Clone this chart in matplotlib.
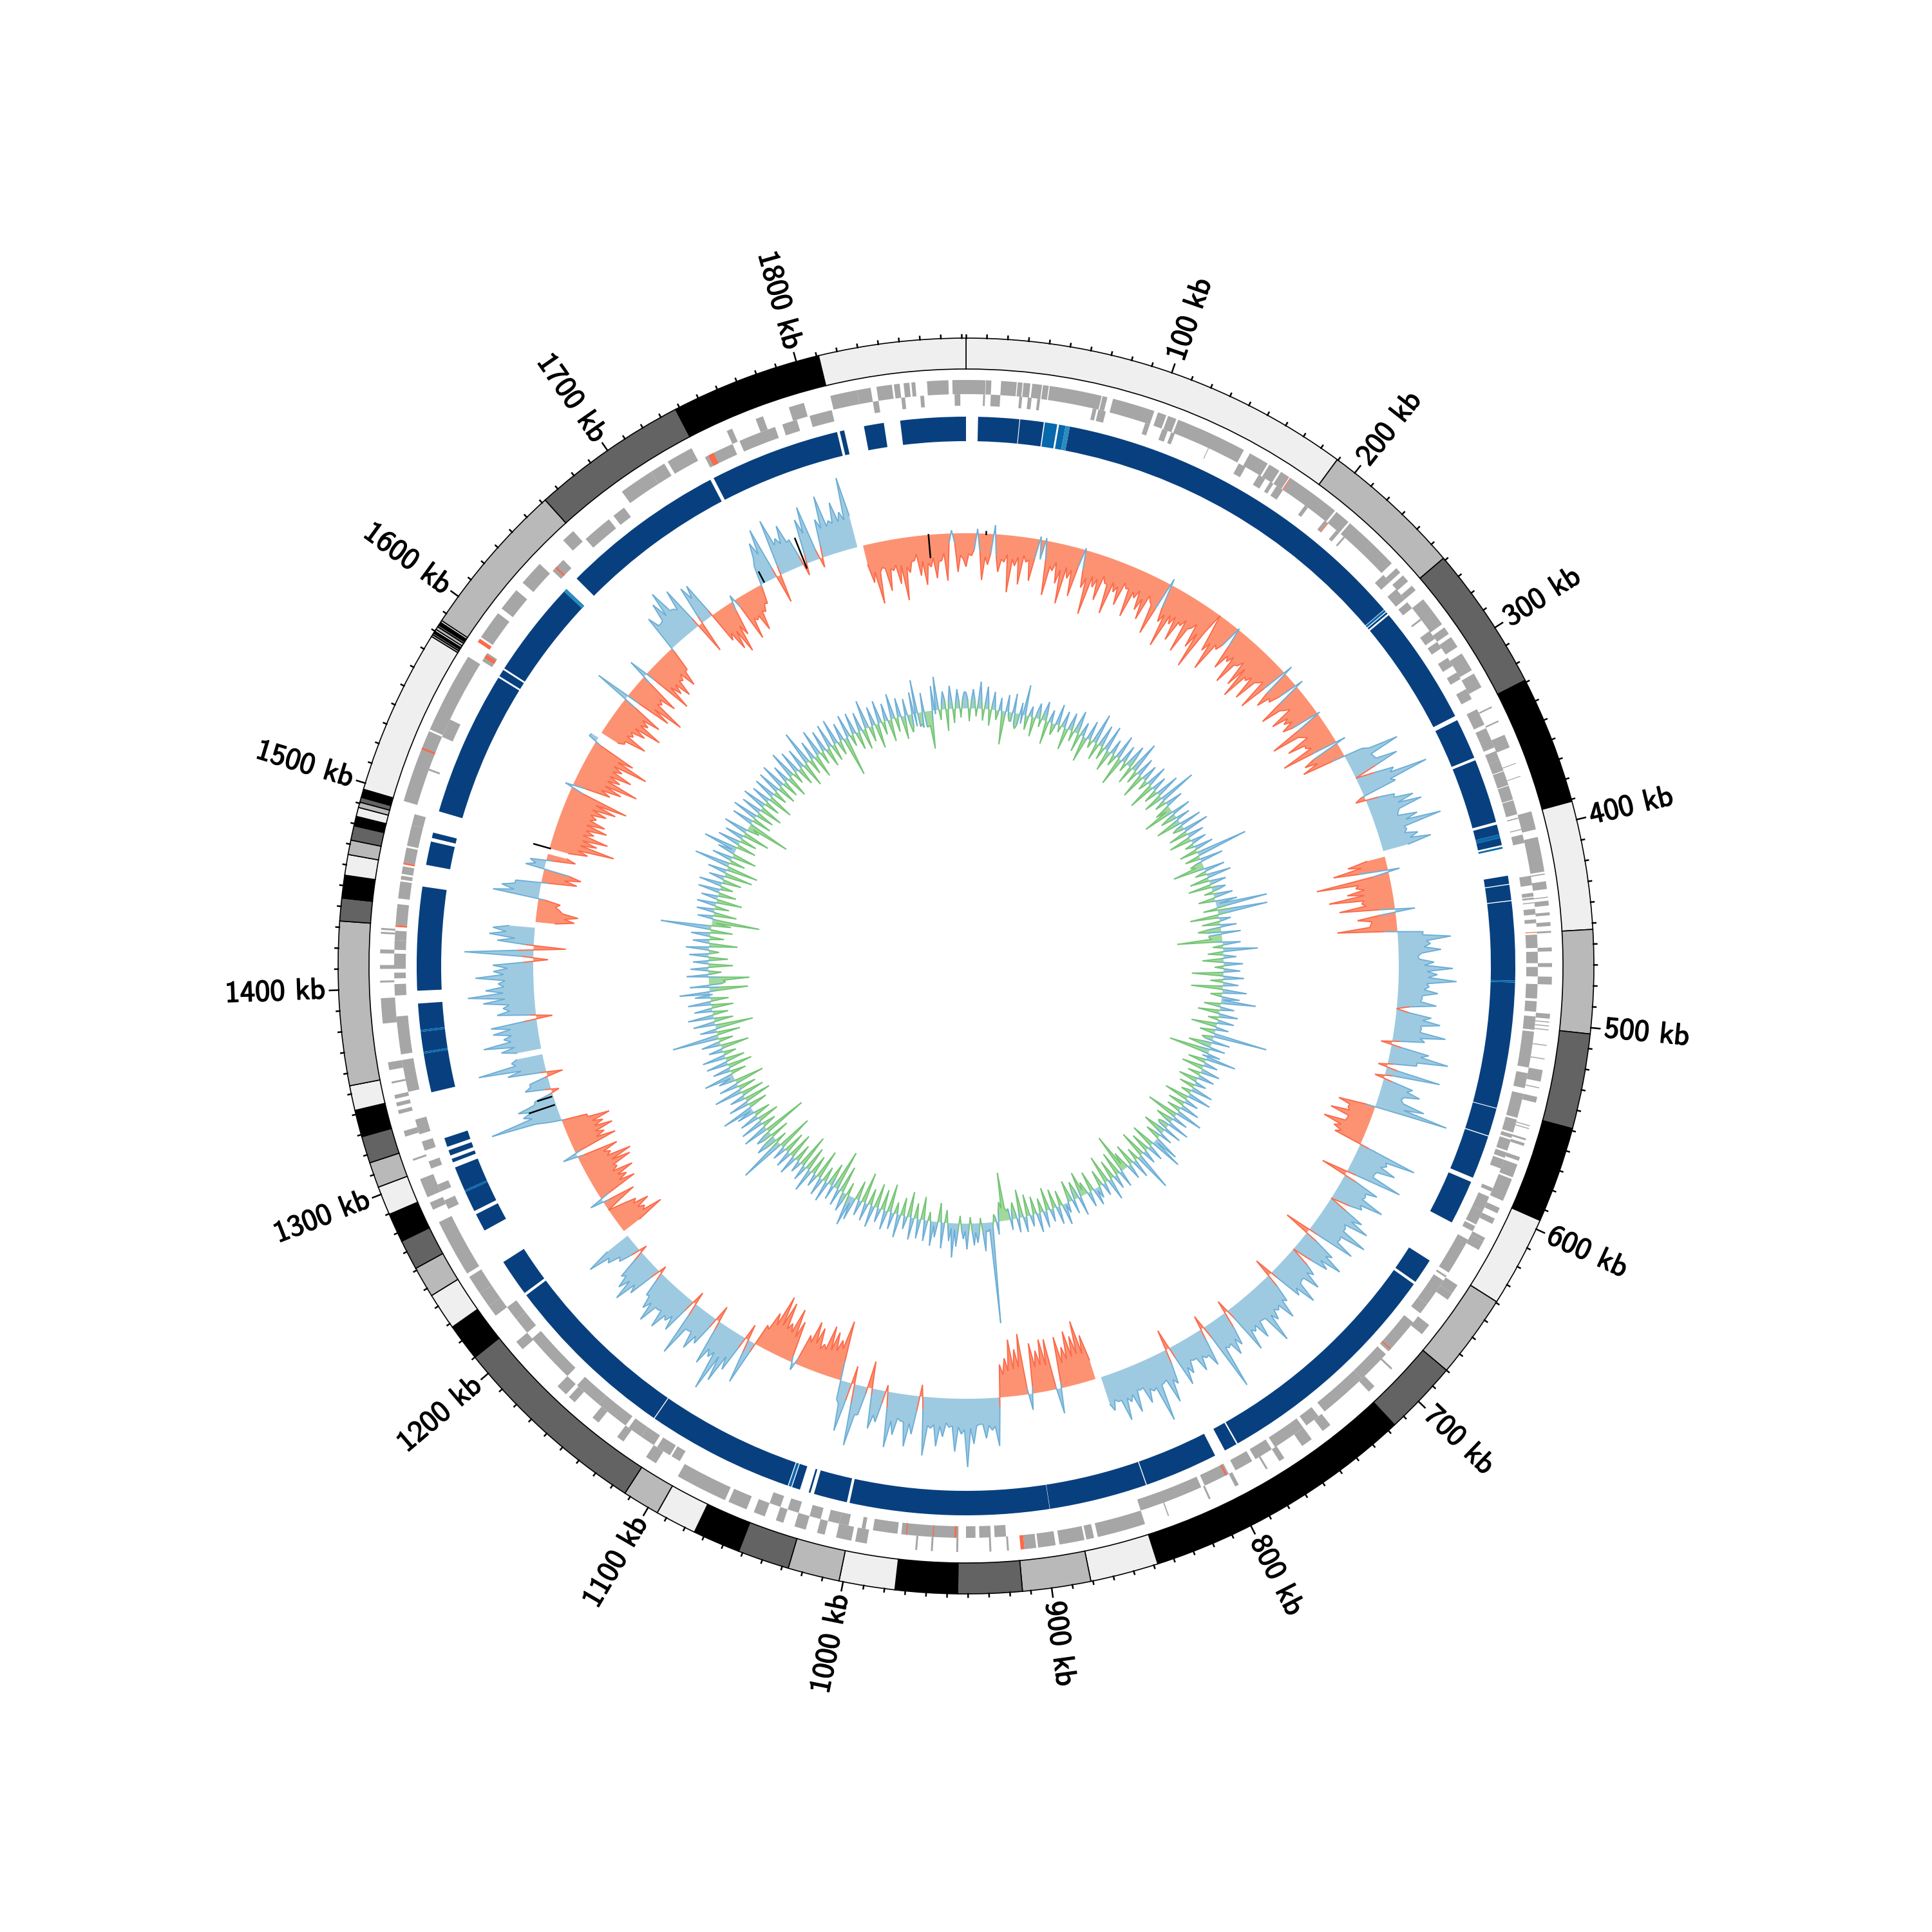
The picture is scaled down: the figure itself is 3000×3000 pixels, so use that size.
# -*- coding: utf-8 -*-
"""
Circular genome plot: contigs, genes on both strands, contig coverage
and two signed tracks around a 1882 kb genome.
"""
import numpy as np
import matplotlib
matplotlib.use("Agg")
import matplotlib.pyplot as plt
import matplotlib.patheffects as path_effects

GENOME_KB = 1882

# contig boundaries in kb, shades cycle light, gray, dark, black
contig_edges = [0, 189.5, 258.8, 329, 391, 453, 503, 549, 595.5, 639.5, 680, 716,
                848, 881, 914, 945, 975, 1002, 1027, 1052, 1075, 1095, 1113, 1210,
                1228, 1246, 1261, 1275.6, 1289.7, 1303.7, 1316, 1329, 1342, 1354,
                1433, 1444, 1455, 1465, 1472, 1479, 1483.6, 1488, 1490.6, 1493,
                1497, 1577, 1578, 1579, 1580, 1581, 1582.5, 1583.5, 1585, 1586,
                1662, 1738, 1811, 1882]
contig_shades = ["#efefef", "#b9b9b9", "#636363", "#000000"]

tick_labels = ["100 kb", "200 kb", "300 kb", "400 kb", "500 kb", "600 kb",
               "700 kb", "800 kb", "900 kb", "1000 kb", "1100 kb", "1200 kb",
               "1300 kb", "1400 kb", "1500 kb", "1600 kb", "1700 kb", "1800 kb"]

# genes on the outer lane (start kb, end kb)
genes_outer = [(0, 10), (10.2, 13), (18, 26), (26.5, 29), (29.5, 33), (34, 39), (39.5, 42.5),
               (43, 70), (70.5, 73), (76, 98), (100, 104.5), (105.5, 110), (111, 148),
               (151.5, 162), (163, 169), (170, 175), (176, 204), (205, 213), (214, 243.6),
               (247, 250), (252, 256), (259, 262), (268, 284), (286, 290), (292, 298),
               (302, 312), (314, 322), (333, 333.8), (341, 341.8), (349, 356),
               (364.5, 364.9), (371.5, 371.9), (390.5, 400), (404, 422), (423, 423.6),
               (427, 431), (435, 435.5), (437, 439.5), (443, 444.5), (448, 450),
               (452.5, 453.5), (461, 463), (469, 471), (476, 480), (495, 497.5),
               (499, 499.5), (501, 501.5), (503, 503.5), (511, 511.5), (518, 518.5),
               (524, 530), (533, 533.5), (538, 541), (553, 553.5), (554.5, 555),
               (560, 561), (562.5, 564), (570, 572), (574, 581), (582, 594), (598, 601),
               (604, 607), (615, 617), (617, 622), (643, 648), (648, 652),
               (668, 674), (697, 698), (710, 714),
               (740, 745), (752, 758), (769, 772), (779, 780), (796, 798), (812, 813),
               (835, 835.6), (848, 873), (875, 879), (880, 893), (895, 904), (905, 911),
               (919, 920), (928, 929), (945, 946), (958, 959), (966, 967), (992, 998),
               (1000, 1008), (1014, 1018), (1024, 1030), (1036, 1040), (1046, 1052),
               (1056, 1066), (1068, 1095), (1108, 1114), (1128, 1132), (1144, 1148),
               (1160, 1164), (1166, 1172), (1198, 1203), (1220, 1226), (1226, 1234),
               (1234, 1244), (1246, 1276), (1283, 1287), (1290, 1300), (1310, 1311),
               (1323, 1326), (1335, 1337), (1339, 1341), (1343, 1345), (1351, 1352),
               (1358, 1362), (1382, 1395), (1403, 1404), (1410, 1412), (1418, 1420),
               (1428, 1429), (1430, 1431), (1497, 1535), (1536, 1578), (1590, 1605),
               (1608, 1620), (1625, 1638), (1655, 1662), (1694, 1712), (1712, 1720),
               (1722, 1736), (1756, 1759), (1772, 1776), (1790, 1798), (1812, 1826),
               (1826, 1833), (1836, 1844), (1845, 1848), (1850, 1853), (1854, 1856),
               (1862, 1873), (1875, 1882)]

# genes on the inner lane
genes_inner = [(9, 10), (13, 18), (28, 29.5), (32.5, 34.5), (37.5, 39), (67, 69), (70, 74),
               (95.5, 98), (105, 108), (110, 112), (131, 131.4), (149, 153), (161, 165),
               (168, 170), (172, 176), (190, 192), (203, 205), (211, 213), (216, 217),
               (245, 250), (255, 262), (264, 268), (275, 276), (283, 288), (290, 294),
               (300, 305), (309, 313), (319, 325), (331, 340), (342, 353), (355, 360),
               (360, 366), (366.4, 374), (374.4, 382), (382.4, 390), (391.8, 392.4),
               (398, 398.5), (401, 405.5), (423, 428), (432, 434), (434.5, 435.5),
               (437, 437.5), (440.5, 443.5), (446, 448), (454, 461), (463, 469),
               (471, 476), (480, 487.6), (489, 494.5), (497, 504), (505, 524),
               (527, 535), (538, 551), (552, 559), (560, 562), (563, 569), (570, 573),
               (574, 579), (590, 592), (595, 603), (603, 611), (612, 615), (620, 640),
               (642, 643), (645, 660), (660, 666), (672, 692),
               (694, 712), (712, 738), (742, 750), (752, 770), (772, 782), (784, 794),
               (798, 812), (814, 848), (920, 926), (928, 934), (936, 941), (945, 975),
               (977, 990), (994, 996), (1003, 1008), (1008, 1014), (1018, 1024),
               (1030, 1036), (1040, 1046), (1098, 1103), (1104, 1112), (1114, 1122),
               (1122, 1130), (1132, 1150), (1150, 1165), (1172, 1199), (1203, 1212),
               (1212, 1220), (1280, 1285), (1290, 1294), (1303, 1307), (1313, 1318),
               (1322, 1330), (1345, 1362), (1365, 1385), (1396, 1402), (1405, 1408),
               (1410, 1418), (1420, 1425), (1425, 1430), (1433, 1444), (1447, 1456),
               (1457, 1459), (1460, 1464), (1466, 1474), (1475, 1486), (1486, 1492),
               (1516, 1517), (1535, 1545), (1580, 1585), (1640, 1648), (1664, 1680),
               (1683, 1690), (1740, 1756), (1760, 1780), (1784, 1792), (1799, 1811),
               (1833, 1836), (1848, 1850), (1858, 1860), (1876, 1879)]

# a few genes picked out in red (start kb, end kb, lane)
genes_red = [(175.5, 176, "outer"), (205, 205.5, "inner"), (452.6, 453, "inner"),
             (690, 690.6, "inner"), (799, 800, "inner"), (911, 913, "outer"),
             (946, 947, "inner"), (958, 958.5, "inner"), (972, 972.6, "inner"),
             (1432, 1433, "inner"), (1465, 1466, "inner"), (1525, 1526, "outer"),
             (1582, 1584, "inner"), (1587, 1589, "outer"), (1642, 1643, "inner"),
             (1742, 1745, "inner")]

# blue contig coverage ring (start kb, end kb)
coverage_dark = [(6.6, 29.2), (29.6, 42.6), (57, 259), (261, 262), (263, 329), (331.5, 354),
                 (355.5, 391), (392.5, 398), (400, 404), (421, 425.5), (426, 434.5),
                 (435, 478.5), (479.5, 548.8), (549.2, 564.5), (565, 589), (591.5, 616),
                 (640, 654), (655.5, 786), (786.8, 794), (800, 840.5), (841, 895),
                 (895.2, 1005), (1006.5, 1025), (1027, 1028), (1033, 1037.5), (1040, 1121.5),
                 (1122, 1219), (1220.5, 1241), (1261, 1271), (1273, 1284.5), (1285.5, 1299),
                 (1302, 1304), (1306, 1309), (1311, 1316), (1342, 1363.5), (1364.5, 1375.5),
                 (1376.5, 1391), (1398, 1455), (1467, 1480), (1482, 1485), (1497, 1577),
                 (1578, 1582), (1583, 1638), (1646, 1737), (1739, 1811), (1812.5, 1815),
                 (1826, 1837), (1846, 1882)]
coverage_mid = [(43.2, 50), (51, 54.6), (259.3, 260.5), (398, 400), (405, 406), (478.5, 479.5),
                (1038, 1039.5), (1284.5, 1285.5), (1363.5, 1364.5), (1375.5, 1376.5)]
coverage_light = [(54.6, 57), (1636, 1638)]

# middle track, one value every 4 kb, px away from its baseline
mid_peaks = [
    -52, -35, 7, -72, -48, 14, -58, -42, -88, -46,
    -74, -38, -66, 5, 4, -84, -44, -62, -92, -50,
    -76, 3, -58, -98, -52, -70, -40, -86, -48, -66,
    -36, -78, -44, -60, -72, -38, -88, 10, -60, -97,
    -55, -78, -48, -88, -42, -70, -100, 0, -60, -88,
    -46, 2, -68, -50, -82, -44, -74, -90, -52, -80,
    -40, -83, 14, -65, -48, 12, -75, -38, -68, -52,
    -60, 4, -89, -40, -72, -46, -90, 15, -62, -69,
    30, 86, 40, 75, 0, 60, 111, 55, -16, 45,
    72, 82, 40, 68, 103, 45, 60, 78, np.nan, -60,
    -85, 18, -115, -55, -70, -100, -50, -86, 31, -60,
    -40, -93, 40, 82, 50, 66, 30, 55, 84, 60,
    90, 48, 62, 38, 61, 0, 55, 70, 42, 81,
    50, -17, 60, 92, 45, -14, 86, -15, 48, 62,
    35, 75, 115, -58, -40, -65, -35, -70, -50, -45,
    94, 52, 70, 40, 89, -41, 60, 45, 80, 50,
    0, 62, 78, 45, 87, 48, 77, -41, 55, 78,
    60, 0, 50, 68, 42, 77, 55, -29, 48, 72,
    50, 60, 92, 45, 70, 52, 78, -20, 55, 66,
    48, 111, -22, 60, 42, 58, 35, 52, 66, -32,
    55, 81, 45, 103, 50, 65, 40, 72, 52, 78,
    45, 56, np.nan, -72, -97, -75, -85, -62, -80, 39,
    -80, -81, -65, -78, 25, -95, -72, -88, -60, -51,
    75, 50, 62, 40, 70, 106, 55, 82, 45, 60,
    75, 48, 91, -18, 60, 80, 42, 65, 86, -10,
    50, 62, -42, 45, 96, -28, 78, 30, -93, -60,
    -70, -77, -45, -68, -75, -50, 12, -65, -82, -55,
    -85, -92, -60, -35, 70, -25, 60, 85, 105, 55,
    72, -25, 50, 65, 40, 88, -20, 60, 50, 70,
    45, 74, 58, 40, -12, 55, 76, 62, 48, -12,
    35, 50, 78, np.nan, -75, -50, -62, -45, 0, -52,
    21, -64, -55, -70, -48, -75, -80, -50, -65, 23,
    -70, -55, -72, -60, -74, -40, 20, 110, 55, 60,
    30, -12, 40, 30, -25, 60, 104, 50, np.nan, 62,
    88, 55, 70, 72, -25, 60, 50, 80, 103, 75,
    55, 90, 62, 63, -23, 107, -50, 57, 70, 65,
    np.nan, -60, -65, -35, -35, 72, 60, 40, -55, -60,
    30, 25, -45, np.nan, -60, -100, -70, -85, -60, -78,
    -72, -55, -68, -80, -95, 12, -60, -75, -98, -65,
    -80, -60, -98, -70, 14, np.nan, -40, -72, -45, -60,
    -83, -55, -70, 55, -75, -94, -50, -68, 30, -80,
    -60, -70, -48, -64, -40, 58, 40, 70, 83, 45,
    72, -50, 62, 60, -50, -70, -80, -55, 10, -72,
    -45, -66, -40, -30, 30, 65, 83, -44, 89, 55,
    72, 45, -18, 70, 87, -15, 60, 94, 52, 78,
    60, 112, np.nan, -60, -95, -40, -78, -48, -70, -97,
    -55, -38, -62, -77, -50, -68, -42, -73, 5, -60,
    -40,
]

# middle track, the level read between two of the values above
mid_between = [
    -32, -25, -28, -36, -30, -34, -38, -30, -36, -32,
    -28, -34, -30, -30, -30, -38, -30, -40, -34, -36,
    -30, -32, -42, -36, -38, -30, -40, -34, -38, -28,
    -34, -36, -30, -40, -30, -42, -44, -38, -46, -42,
    -40, -44, -36, -46, -32, -44, -35, -30, -44, -40,
    -34, -30, -42, -38, -46, -34, -40, -48, -42, -44,
    -34, -40, -42, -44, -30, -38, -44, -30, -42, -40,
    -44, -40, -46, -34, -44, -38, -40, -44, -42, -20,
    40, 38, 42, 36, 30, 52, 48, -5, 20, 42,
    46, 44, 38, 48, 42, 40, 46, 40, -28, -40,
    -45, -25, -50, -42, -44, -46, -44, -25, -25, -38,
    -42, -20, 38, 44, 40, 36, 32, 40, 44, 46,
    44, 40, 38, 36, 20, 20, 42, 40, 40, 42,
    12, 16, 48, 44, 10, 18, 12, 14, 40, 38,
    40, 44, -15, -38, -36, -34, -36, -40, -36, 15,
    48, 44, 42, 40, 15, 20, 42, 42, 44, 30,
    30, 46, 40, 44, 46, 46, 15, 20, 46, 44,
    32, 32, 40, 42, 44, 44, 12, 20, 42, 44,
    44, 48, 46, 44, 44, 46, 15, 25, 42, 44,
    44, 20, 16, 40, 36, 34, 32, 40, 18, 22,
    46, 42, 46, 46, 44, 38, 38, 42, 44, 44,
    40, 44, -30, -44, -46, -44, -42, -38, -10, -5,
    -40, -42, -40, -12, -10, -44, -42, -40, -35, 15,
    44, 42, 40, 42, 46, 48, 44, 42, 38, 44,
    42, 44, 20, 22, 44, 42, 38, 44, 25, 20,
    40, 10, 10, 46, 30, 28, 36, -30, -48, -42,
    -40, -38, -36, -42, -40, -10, -10, -38, -42, -44,
    -46, -42, -30, 15, 20, 18, 40, 46, 44, 44,
    15, 16, 40, 38, 40, 20, 18, 38, 44, 42,
    44, 44, 38, 12, 16, 42, 44, 42, 16, 14,
    30, 44, 40, -30, -44, -40, -38, -25, -25, -10,
    -15, -40, -42, -38, -44, -46, -42, -40, -10, -10,
    -40, -42, -44, -44, -40, -5, 40, 42, 40, 32,
    5, 10, 30, 5, 10, 38, 44, 40, 38, 40,
    44, 42, 42, 20, 10, 40, 40, 46, 48, 46,
    44, 46, 40, 15, 18, 25, 12, 30, 44, 40,
    -30, -44, -40, -28, -10, 40, 40, -10, -35, -40,
    15, -10, -30, -30, -44, -45, -46, -44, -46, -44,
    -46, -44, -44, -46, -20, -20, -44, -46, -46, -46,
    -46, -44, -46, -10, 12, -30, -38, -36, -38, -40,
    -44, -42, -20, -20, -46, -44, -42, -15, -15, -42,
    -44, -44, -38, -40, -5, 40, 42, 44, 46, 40,
    15, 12, 40, 10, -40, -42, -38, -15, -15, -40,
    -40, -36, -28, -5, 42, 44, 15, 15, 46, 44,
    42, 15, 15, 46, 15, 18, 44, 44, 46, 46,
    46, 50, -30, -44, -46, -42, -44, -40, -42, -46,
    -38, -28, -40, -44, -36, -42, -30, -15, -15, -34,
]

# inner track, one value every 4 kb
inner_peaks = [
    25, -20, 30, -12, 42, -18, 35, -25, 28, -15,
    20, -52, 26, -14, 30, -24, 18, 47, -22, 16,
    -30, 24, -12, 30, -36, 20, -18, 33, -10, 26,
    -34, 28, -16, 36, -28, 22, -40, 30, -12, 48,
    -26, 35, -20, 40, -33, 24, -18, 38, -45, 28,
    -14, 36, -28, 50, -20, 30, -38, 26, -16, 34,
    -42, 24, -22, 38, -30, 59, -18, 28, -25, -49,
    30, -26, 22, -40, 34, -18, 40, -30, 26, -35,
    24, -14, 30, -28, 81, -24, 36, -20, -50, 32,
    -18, 38, -30, 26, -36, 22, -14, 30, -26, 34,
    80, -22, 78, -45, 18, -28, 25, -36, 30, -20,
    -70, 28, -16, 54, -24, 20, -33, 30, -14, 26,
    -49, 32, -20, 24, -49, 38, -18, 28, 54, -26,
    22, -34, 30, -16, 26, -40, 20, -24, 84, -18,
    28, -36, 24, -64, 20, 47, -28, 22, -34, 30,
    -20, 26, -30, 18, -24, 34, -16, 37, -38, 22,
    -26, 30, -22, 42, -50, 24, -28, 34, -18, 28,
    -36, 20, -24, 40, 51, -38, 26, -30, 22, -42,
    61, -20, 30, -34, 24, -28, -62, 26, -38, 22,
    -30, 34, -44, 20, -26, 18, 27, -32, 24, -20,
    -39, 30, -28, 22, -34, 16, 33, -24, 28, -30,
    20, -36, 26, -22, 30, -28, 18, -34, 24, -44,
    22, -26, 16, -14, -75, -30, 20, -12, 157, 14,
    44, -8, 30, 34, -10, 40, 24, -12, 36, 53,
    28, -20, 40, -30, 24, 38, -14, 32, -36, 30,
    -24, 34, -40, 20, -28, 36, -18, 26, -44, 30,
    -32, 22, -38, 34, -26, 28, -48, 24, -30, 36,
    48, -20, 30, -42, 26, -63, 22, -36, 32, -24,
    28, -46, 20, -30, 36, -38, 24, -52, 18, -28,
    30, -40, 26, -34, 22, -56, 72, -18, 34, -30,
    26, -68, 40, -22, 36, -34, 30, -26, 28, 50,
    -30, 32, -42, 24, -36, 44, -28, 30, -46, 26,
    47, -24, 28, -38, 34, -30, 36, -20, 22, -44,
    30, -22, 73, -36, 26, -59, 34, -30, 40, -24,
    28, -34, 36, -28, 24, 47, -60, 30, -26, -63,
    34, -20, 28, -38, 24, -30, 30, -16, 36, -44,
    26, -22, 30, -34, 79, -30, -74, 24, -36, 28,
    -22, 30, -40, 26, -28, 34, -20, 36, -30, 24,
    -44, 30, -49, 56, -24, 32, -38, 28, 54, -30,
    36, -26, 30, -42, 38, -20, -67, 34, -30, 40,
    -28, 32, -36, 38, -24, 30, -40, 34, -22, 36,
    -30, 40, -26, 28, -34, 44, -18, 36, -28, 32,
    -38, 55, -24, 30, -36, 42, -20, 34, -30, 38,
    -26, 40, -22, 28, -62, 36, -18, 34, -28, 30,
    -32, 45, -24, 30, -38, 36, -20, 28, -34, 40,
    -22, 30, -36, 26, -28, 34, 52, -18, 30, -24,
    -59, 38, 52, -16, 28, -34, 36, -22, 30, -14,
    26,
]

# inner track, the level read between two of the values above
inner_between = [
    14, 12, 14, 10, 12, 8, 10, 6, 4, -4,
    -6, -8, -6, -14, -18, -18, -14, -4, 3, -3,
    8, 10, 12, 10, 4, -4, -6, 4, 6, -3,
    4, 8, 10, 12, 6, -4, -5, 3, 4, 5,
    4, 6, 3, -4, -6, 4, -4, 3, -5, 4,
    10, 14, 12, 4, 4, -5, 4, 3, -4, 4,
    -5, 3, -4, 4, -6, -4, 4, -4, -8, -10,
    -10, -8, -10, -12, -10, -6, -4, 4, -4, -4,
    4, -4, 4, 6, 3, -4, -10, -12, -10, -4,
    4, -4, 3, 5, 8, 10, 6, 4, -4, 6,
    16, 20, 14, -4, 4, -4, -18, -22, -20, -16,
    -10, 3, 4, -4, 3, -5, -6, 4, 3, -4,
    -6, 3, 4, -5, 4, 3, -4, 3, 4, -4,
    3, -4, 4, 3, -5, -4, -6, -4, -5, -12,
    -14, -16, -14, -12, -8, -4, 4, -5, 4, 3,
    4, -4, -5, 3, 4, -4, 3, -4, 3, -4,
    4, -4, 3, -5, -6, -8, -10, -12, -14, -14,
    -12, -10, 3, 5, -5, 4, -5, 3, -4, 4,
    4, 3, -4, 4, -5, -10, -6, -6, 3, -4,
    4, -5, 3, -4, 3, 5, -4, 3, -4, -8,
    -12, -14, -14, -10, -5, 3, 4, 3, -5, 3,
    -4, 3, -5, 3, -4, 3, -4, 3, -5, -8,
    -10, -14, -18, -20, -20, -16, -6, 8, 10, 12,
    14, 16, 14, 12, 14, 12, 10, 12, 10, 8,
    4, 3, -4, 4, 6, 3, 4, -5, 3, -4,
    3, -5, 3, -4, 3, -4, 3, -5, 4, -4,
    3, -4, 3, -5, 3, -4, 3, -4, 3, 10,
    14, 12, 8, -4, -10, -14, -12, -8, -4, 4,
    -5, 3, -4, 3, -5, 3, -6, 3, -4, 3,
    -5, 3, -4, 3, -6, 8, 14, 18, 20, 16,
    10, 4, 3, -5, 3, -4, 3, -5, 4, -5,
    3, -6, 4, -5, 3, -5, 3, -6, 4, 6,
    4, 3, -4, 3, -5, 3, -4, 3, -5, 3,
    4, 4, 8, 3, -8, -8, 3, -5, 3, -4,
    3, -5, 3, -4, -4, -10, -16, -20, -22, -18,
    -6, 3, -4, 3, -5, 3, -4, 3, -6, 3,
    3, 4, 3, 6, 8, -6, -6, 3, -5, 3,
    3, -5, 3, -4, 3, -4, 3, -5, 3, -5,
    3, -6, 4, 3, 4, -5, 3, 6, 4, 4,
    3, 4, -5, 3, -4, -8, -6, 3, 4, -4,
    3, -5, 3, 4, 3, -5, 4, -4, 3, -5,
    4, -4, 3, -4, 4, 3, 4, -5, 3, -4,
    5, 4, 3, -5, 4, 3, 4, -5, 3, -4,
    4, -4, 3, -6, -8, 3, 4, -5, 3, -4,
    4, 3, -5, 3, -4, 3, 4, -5, 3, 4,
    3, -5, -8, -14, -18, -20, -22, -24, -24, -22,
    -16, -6, 4, 10, 14, 12, 10, 8, 12, 14,
]

# short black strokes on the middle track (kb, radius from, radius to)
black_marks = [(1856, 672, 637), (14, 675, 671), (1768, 715, 666), (1737, 691, 674),
               (1494, 697, 671), (1320, 697, 675), (1314, 715, 675)]


def to_theta(kb):
    """Turn a position in kb into an angle in radians."""
    return np.deg2rad(np.asarray(kb, dtype=float) * 360.0 / GENOME_KB)


def draw_blocks(ax, blocks, bottom, height, color):
    """Draw (start, end) blocks as ring segments."""
    for block in blocks:
        start, end = block[0], block[1]
        ax.bar(to_theta(start), height, width=to_theta(end - start), bottom=bottom,
               align="edge", color=color, linewidth=0)


def draw_signed_track(ax, peaks, between, base, up_fill, up_line, down_fill, down_line):
    """Fill and outline values above and below a circular baseline."""
    values = np.empty(len(peaks) + len(between) + 1)
    values[:-1:2] = peaks
    values[1:-1:2] = between
    values[-1] = peaks[0]
    kb = np.append(np.arange(len(values) - 1) * 2, GENOME_KB)
    theta = to_theta(kb)
    radius = base + values
    ax.fill_between(theta, base, radius, where=values >= 0, interpolate=True,
                    color=up_fill, linewidth=0)
    ax.fill_between(theta, base, radius, where=values <= 0, interpolate=True,
                    color=down_fill, linewidth=0)
    for i in range(len(values) - 1):
        if np.isnan(values[i]) or np.isnan(values[i + 1]):
            continue
        # a segment takes the colour of the peak it belongs to
        peak = values[i] if i % 2 == 0 else values[i + 1]
        color = up_line if peak > 0 else down_line
        ax.plot(theta[i:i + 2], radius[i:i + 2], color=color, lw=0.45,
                solid_capstyle="butt")


fig = plt.figure(figsize=(10, 10), dpi=300)
ax = fig.add_axes([0, 0, 1, 1], projection="polar")
ax.set_theta_zero_location("N")
ax.set_theta_direction(-1)
ax.set_rlim(0, 1500)
ax.axis("off")

# outer contig ring
for i in range(len(contig_edges) - 1):
    ax.bar(to_theta(contig_edges[i]), 48, width=to_theta(contig_edges[i + 1] - contig_edges[i]),
           bottom=927, align="edge", color=contig_shades[i % 4], edgecolor="black", linewidth=0.4)

# ticks and labels
for kb in range(0, GENOME_KB, 10):
    size = 14 if kb % 100 == 0 and kb > 0 else 5
    ax.plot([to_theta(kb)] * 2, [975, 975 + size], color="black", lw=0.6)
for n, label in enumerate(tick_labels):
    kb = (n + 1) * 100
    angle = kb * 360.0 / GENOME_KB
    if angle < 180:
        rotation, ha = 90 - angle, "left"
    else:
        rotation, ha = 270 - angle, "right"
    label_text = ax.text(to_theta(kb), 996, label, rotation=rotation, rotation_mode="anchor",
                         ha=ha, va="center", fontsize=11.2, family="cmss10")
    label_text.set_path_effects([path_effects.withStroke(linewidth=0.35, foreground="black")])

# gene lanes
draw_blocks(ax, genes_outer, 888, 22, "#a6a6a6")
draw_blocks(ax, genes_inner, 870, 18, "#a6a6a6")
for start, end, lane in genes_red:
    if lane == "outer":
        draw_blocks(ax, [(start, end)], 888, 22, "#fb6a4a")
    else:
        draw_blocks(ax, [(start, end)], 870, 18, "#fb6a4a")

# coverage ring
draw_blocks(ax, coverage_dark, 815, 38, "#08407f")
draw_blocks(ax, coverage_mid, 815, 38, "#0868ac")
draw_blocks(ax, coverage_light, 815, 38, "#2b8cbe")

# signed tracks
draw_signed_track(ax, mid_peaks, mid_between, 672, "#9ecae1", "#6baed6", "#fc9272", "#fb6a4a")
draw_signed_track(ax, inner_peaks, inner_between, 400, "#9ecae1", "#6baed6", "#a1d99b", "#74c476")
for kb, r_from, r_to in black_marks:
    ax.plot([to_theta(kb)] * 2, [r_from, r_to], color="black", lw=0.6)

plt.savefig("out.png", dpi=300)
